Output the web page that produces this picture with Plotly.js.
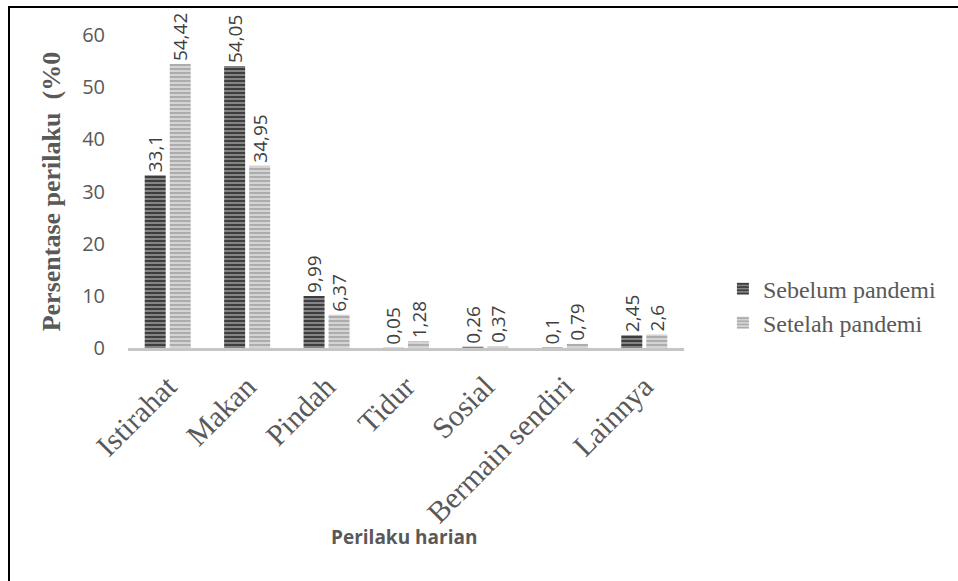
<!DOCTYPE html>
<html>
<head>
<meta charset="utf-8">
<script src="https://cdn.plot.ly/plotly-3.0.1.min.js"></script>
<style>
  html, body { margin: 0; padding: 0; background: #fff; }
  #wrap { position: relative; width: 958px; height: 581px; }
  #chart { width: 958px; height: 581px; }
  #frame { position: absolute; left: 8px; top: 6px; right: 0; bottom: 0;
           border-top: 2px solid #000; border-left: 2px solid #000; pointer-events: none; }
</style>
</head>
<body>
<div id="wrap">
  <div id="chart"></div>
  <div id="frame"></div>
</div>
<script>
const categories = ["Istirahat", "Makan", "Pindah", "Tidur", "Sosial", "Bermain sendiri", "Lainnya"];
const sebelum = [33.1, 54.05, 9.99, 0.05, 0.26, 0.1, 2.45];
const setelah = [54.42, 34.95, 6.37, 1.28, 0.37, 0.79, 2.6];
const seriesNames = ["Sebelum pandemi", "Setelah pandemi"];
const yTicks = [0, 10, 20, 30, 40, 50, 60];

const fmt = v => String(v).replace('.', ',');
const grey = '#595959';

const labelFont = { family: 'Open Sans, Liberation Sans, sans-serif', size: 19, color: '#404040' };

const traces = [
  {
    type: 'bar', name: seriesNames[0], x: categories, y: sebelum,
    text: sebelum.map(fmt), textposition: 'outside', textangle: -90,
    textfont: labelFont, cliponaxis: false, constraintext: 'none',
    marker: { color: '#6e6e6e', pattern: { shape: '-', fgcolor: '#363636', bgcolor: '#848484', size: 4, solidity: 0.45, fillmode: 'replace' } },
    hoverinfo: 'none'
  },
  {
    type: 'bar', name: seriesNames[1], x: categories, y: setelah,
    text: setelah.map(fmt), textposition: 'outside', textangle: -90,
    textfont: labelFont, cliponaxis: false, constraintext: 'none',
    marker: { color: '#c4c4c4', pattern: { shape: '-', fgcolor: '#a9a9a9', bgcolor: '#d4d4d4', size: 4, solidity: 0.45, fillmode: 'replace' } },
    hoverinfo: 'none'
  }
];

const layout = {
  width: 958, height: 581,
  margin: { l: 128, r: 274, t: 35, b: 233, pad: 0 },
  paper_bgcolor: '#ffffff', plot_bgcolor: '#ffffff',
  barmode: 'group', bargap: 0.37, bargroupgap: 0.16,
  showlegend: true,
  legend: {
    x: 1.07, y: 0.134, xanchor: 'left', yanchor: 'middle',
    font: { family: 'Liberation Serif, DejaVu Serif, serif', size: 24, color: grey },
    itemwidth: 30, tracegroupgap: 0, bgcolor: 'rgba(0,0,0,0)'
  },
  xaxis: {
    type: 'category', tickangle: -45,
    tickfont: { family: 'Liberation Serif, DejaVu Serif, serif', size: 30, color: grey },
    showline: true, linecolor: '#c6c6c6', linewidth: 3,
    ticks: '', showgrid: false, zeroline: false, automargin: false,
    ticklabelstandoff: 6
  },
  yaxis: {
    range: [0, 60], tickvals: yTicks, ticktext: yTicks.map(String),
    tickfont: { family: 'Open Sans, Liberation Sans, sans-serif', size: 20, color: grey },
    showline: false, showgrid: false, zeroline: false, ticks: '',
    automargin: false, ticklabelstandoff: 22
  },
  annotations: [
    {
      text: '<b>Persentase perilaku  (%0</b>', xref: 'paper', yref: 'paper',
      x: -0.137, y: 0.5, xanchor: 'center', yanchor: 'middle', textangle: -90, showarrow: false,
      font: { family: 'Liberation Serif, DejaVu Serif, serif', size: 26, color: grey }
    },
    {
      text: '<b>Perilaku harian</b>', xref: 'paper', yref: 'paper',
      x: 0.497, y: -0.605, xanchor: 'center', yanchor: 'middle', showarrow: false,
      font: { family: 'Open Sans, Liberation Sans, sans-serif', size: 19, color: grey }
    }
  ]
};

Plotly.newPlot('chart', traces, layout, { displayModeBar: false, staticPlot: true });
</script>
</body>
</html>
